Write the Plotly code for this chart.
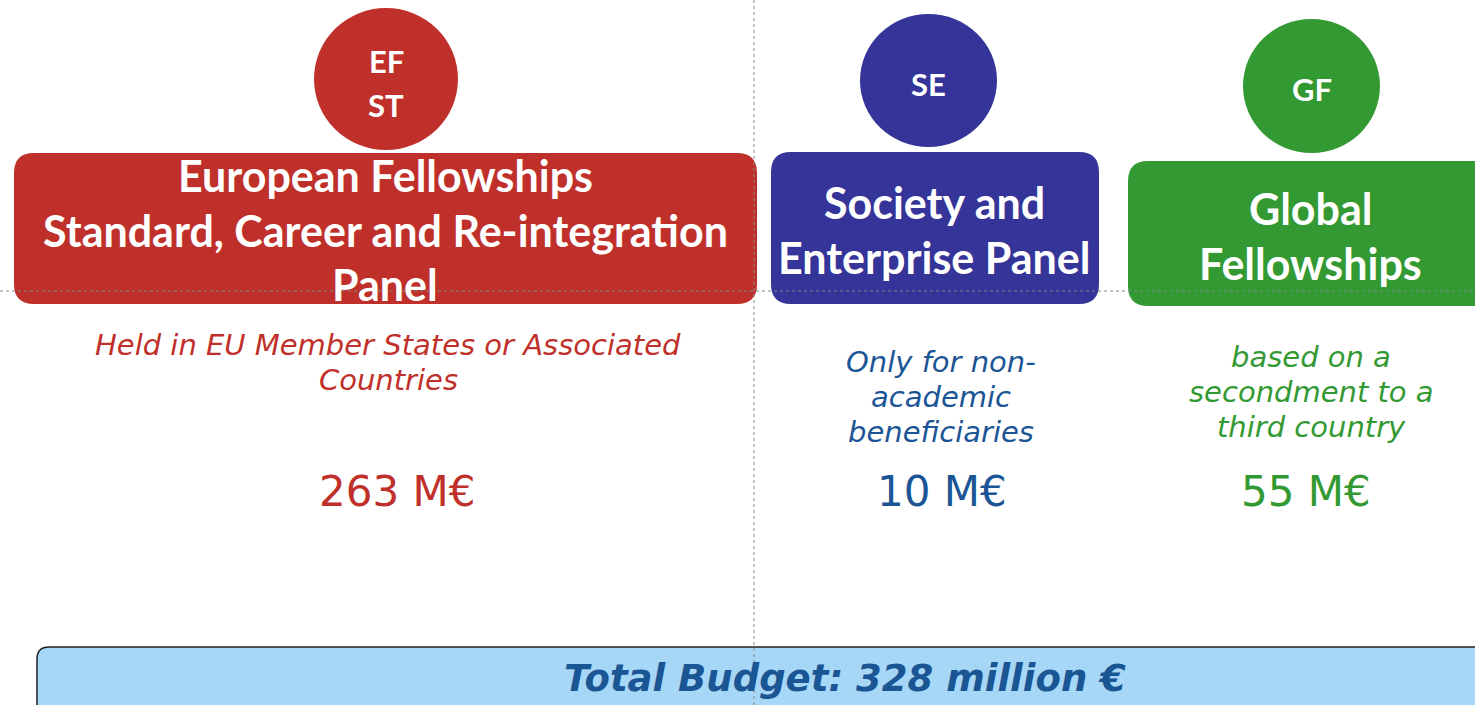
import plotly.graph_objects as go

# ---- data ----
abbreviations = ["EF<br>ST", "SE", "GF"]
panel_titles = [
    ["European Fellowships", "Standard, Career and Re-integration", "Panel"],
    ["Society and", "Enterprise Panel"],
    ["Global", "Fellowships"],
]
descriptions = [
    ["Held in EU Member States or Associated", "Countries"],
    ["Only for non-", "academic", "beneficiaries"],
    ["based on a", "secondment to a", "third country"],
]
budgets_meur = [263, 10, 55]
total_budget_meur = 328

# ---- layout / styles ----
W, H = 1475, 705
box_colors = ["#C0302A", "#353499", "#339933"]
text_colors = ["#C0302A", "#1B5595", "#339933"]
circles = [(314, 458, 8, 150), (860, 997, 14, 147), (1243, 1380, 19, 153)]
boxes = [(14, 757, 153, 304), (771, 1099, 152, 304), (1128, 1500, 161, 306)]
centers = [385, 934, 1310]
title_y = [[175, 230, 284], [202, 257], [208, 263]]
circle_text_y = [[61, 105], [84], [89]]
desc_y = [[345, 380], [362, 397, 432], [357, 392, 427]]
desc_x = [388, 941, 1311]
budget_x = [397, 942, 1306]
budget_y = 491

TITLE_FONT = "Lato"
BODY_FONT = "DejaVu Sans"


def rounded_path(x0, x1, y0, y1, r):
    return (f"M {x0+r},{y0} L {x1-r},{y0} Q {x1},{y0} {x1},{y0+r} "
            f"L {x1},{y1-r} Q {x1},{y1} {x1-r},{y1} L {x0+r},{y1} "
            f"Q {x0},{y1} {x0},{y1-r} L {x0},{y0+r} Q {x0},{y0} {x0+r},{y0} Z")


fig = go.Figure()
shapes = []
annotations = []

# guide lines (dotted)
shapes.append(dict(type="line", x0=754, x1=754, y0=0, y1=H,
                   line=dict(color="#8a8a8a", width=1, dash="dot"), layer="above"))
shapes.append(dict(type="line", x0=0, x1=W, y0=291, y1=291,
                   line=dict(color="#7a8a8a", width=1, dash="dot"), layer="above"))

for i in range(3):
    cx0, cx1, cy0, cy1 = circles[i]
    shapes.append(dict(type="circle", x0=cx0, x1=cx1, y0=cy0, y1=cy1,
                       fillcolor=box_colors[i], line=dict(width=0), layer="below"))
    bx0, bx1, by0, by1 = boxes[i]
    shapes.append(dict(type="path", path=rounded_path(bx0, bx1, by0, by1, 20),
                       fillcolor=box_colors[i], line=dict(width=0), layer="below"))
    abbr_lines = abbreviations[i].split("<br>")
    for line, yy in zip(abbr_lines, circle_text_y[i]):
        annotations.append(dict(x=(cx0 + cx1) / 2, y=yy, text=f"<b>{line}</b>",
                                showarrow=False, xanchor="center", yanchor="middle",
                                font=dict(family=TITLE_FONT, size=31, color="white")))
    for line, yy in zip(panel_titles[i], title_y[i]):
        annotations.append(dict(x=centers[i], y=yy, text=f"<b>{line}</b>",
                                showarrow=False, xanchor="center", yanchor="middle",
                                font=dict(family=TITLE_FONT, size=43, color="white")))
    for line, yy in zip(descriptions[i], desc_y[i]):
        annotations.append(dict(x=desc_x[i], y=yy, text=f"<i>{line}</i>",
                                showarrow=False, xanchor="center", yanchor="middle",
                                font=dict(family=BODY_FONT, size=29, color=text_colors[i])))
    annotations.append(dict(x=budget_x[i], y=budget_y, text=f"{budgets_meur[i]} M€",
                            showarrow=False, xanchor="center", yanchor="middle",
                            font=dict(family=BODY_FONT, size=42, color=text_colors[i])))

# total budget box
shapes.append(dict(type="path", path=rounded_path(37, 1520, 647, 760, 12),
                   fillcolor="#A7D7F6", line=dict(color="#222222", width=1.5), layer="below"))
annotations.append(dict(x=845, y=678, text=f"<b><i>Total Budget: {total_budget_meur} million €</i></b>",
                        showarrow=False, xanchor="center", yanchor="middle",
                        font=dict(family=BODY_FONT, size=37, color="#1A5594")))

fig.update_layout(
    width=W, height=H,
    margin=dict(l=0, r=0, t=0, b=0),
    paper_bgcolor="white", plot_bgcolor="white",
    xaxis=dict(range=[0, W], visible=False, fixedrange=True),
    yaxis=dict(range=[H, 0], visible=False, fixedrange=True),
    shapes=shapes, annotations=annotations, showlegend=False,
)
fig.write_html("out.html", config={"displayModeBar": False},
               post_script="document.body.style.margin='0';document.body.style.overflow='hidden';")
